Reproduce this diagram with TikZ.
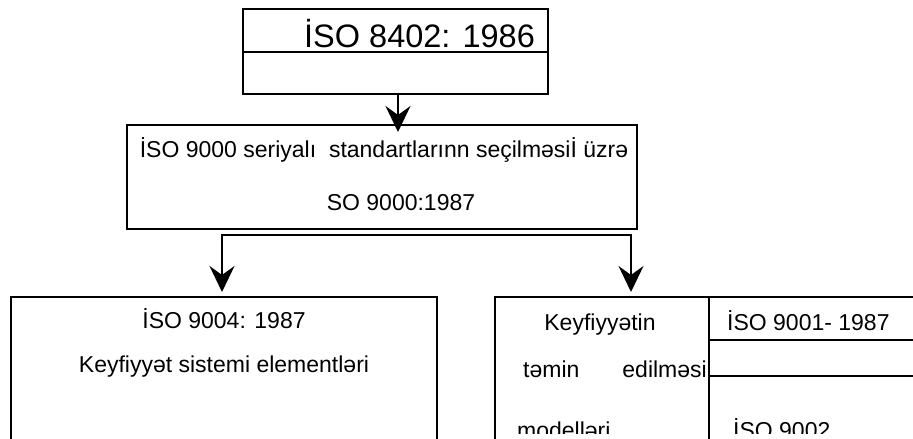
\documentclass[tikz,border=0pt]{standalone}
\usepackage{fontspec}
\setmainfont{Liberation Sans}
\usetikzlibrary{arrows.meta}

\begin{document}
\begin{tikzpicture}[x=1pt,y=-1pt,
  box/.style={draw,line width=1.5pt,inner sep=0pt,outer sep=0pt},
  txt/.style={inner sep=0pt,anchor=base,font=\fontsize{23}{27}\selectfont},
  arr/.style={line width=2pt,-{Stealth[length=26pt,width=25pt,inset=9pt]}},
  arrs/.style={line width=2pt,{Stealth[length=26pt,width=25pt,inset=9pt]}-{Stealth[length=26pt,width=25pt,inset=9pt]}}]

  \useasboundingbox (0,0) rectangle (913,439);
  \clip (0,0) rectangle (913,439);

  % boxes
  \node[box,minimum width=305pt,minimum height=43pt] (iso8402) at (395.5,30.5) {};
  \node[box,minimum width=305pt,minimum height=42pt] (iso8402b) at (395.5,73) {};
  \node[box,minimum width=510pt,minimum height=104pt] (iso9000) at (382,177) {};
  \node[box,minimum width=426pt,minimum height=173pt] (iso9004) at (224,383.5) {};
  \node[box,minimum width=214pt,minimum height=173pt] (quality) at (602,383.5) {};
  \node[box,minimum width=221pt,minimum height=43pt] (iso9001) at (819.5,318.5) {};
  \node[box,minimum width=221pt,minimum height=36pt] (blank) at (819.5,358) {};
  \node[box,minimum width=221pt,minimum height=94pt] (iso9002) at (819.5,423) {};

  % texts
  \node[txt,anchor=base west,font=\fontsize{32.5}{38}\selectfont] (t8402) at (304,47) {İSO 8402: 1986};
  \node[txt] (t9000a) at (384,157) {İSO 9000 seriyalı~ standartlarınn seçilməsiİ üzrə};
  \node[txt] (t9000b) at (401,210) {SO 9000:1987};
  \node[txt] (t9004a) at (224,328) {İSO 9004: 1987};
  \node[txt] (t9004b) at (224,372) {Keyfiyyət sistemi elementləri};
  \node[txt] (tq1) at (600,330) {Keyfiyyətin};
  \node[txt,anchor=base west] (tq2) at (523,377) {təmin};
  \node[txt,anchor=base east] (tq3) at (707,377) {edilməsi};
  \node[txt,anchor=base west] (t9001) at (727,330) {İSO 9001- 1987};
  \begin{scope}
    \clip (0,0) rectangle (913,433);
    \node[txt,anchor=base west] (tq4) at (517,438) {modelləri};
    \node[txt,anchor=base west] (t9002) at (733,438) {İSO 9002};
  \end{scope}

  % connectors
  \coordinate (topx) at (398,0);
  \coordinate (forkL) at (222,235);
  \coordinate (forkR) at (631,235);
  \draw[arr,shorten >=-7pt] (iso8402b.south -| topx) -- (topx |- iso9000.north);
  \draw[arrs,shorten >=5pt,shorten <=5pt]
    (forkL |- iso9004.north) -- (forkL) -- (forkR) -- (forkR |- quality.north);
\end{tikzpicture}
\end{document}
